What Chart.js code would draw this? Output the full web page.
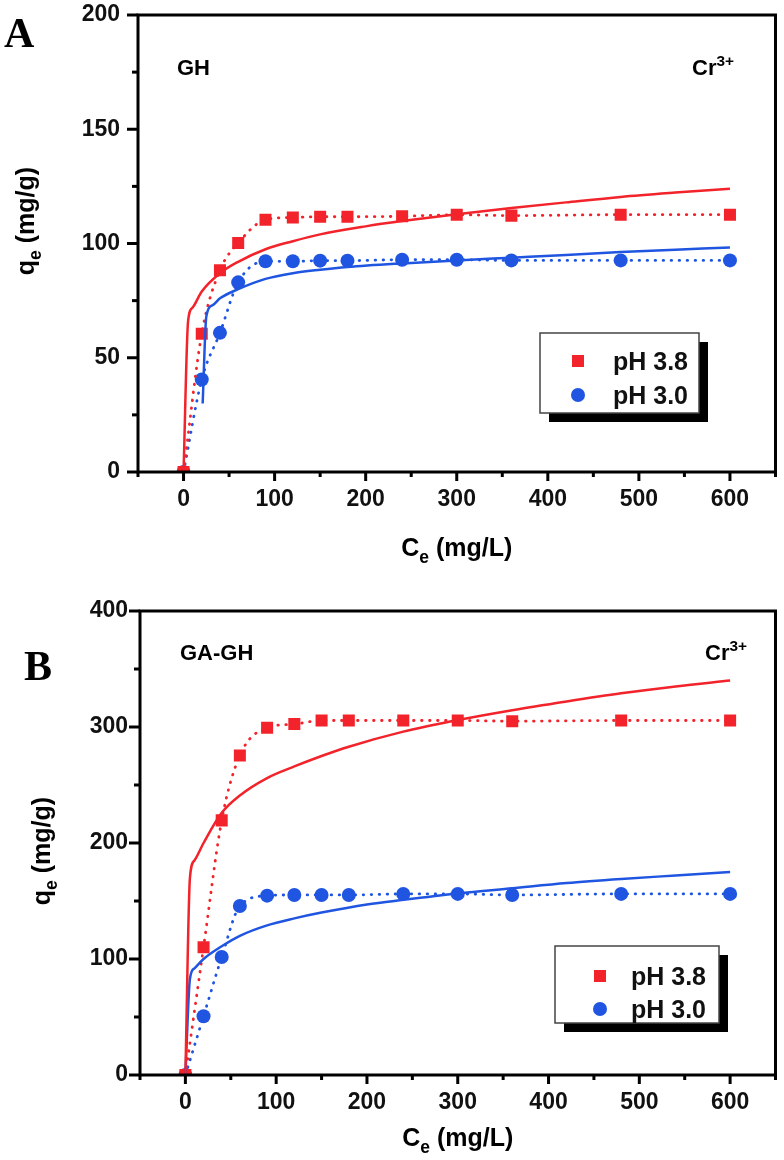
<!DOCTYPE html>
<html>
<head>
<meta charset="utf-8">
<script src="https://cdn.jsdelivr.net/npm/chart.js@4/dist/chart.umd.min.js"></script>
<style>
  html, body { margin: 0; padding: 0; background: #fff; }
  #wrap { position: relative; width: 784px; height: 1160px; }
  canvas { position: absolute; left: 0; }
</style>
</head>
<body>
<div id="wrap">
  <canvas id="chartA" width="784" height="580" style="top:0"></canvas>
  <canvas id="chartB" width="784" height="580" style="top:580px"></canvas>
</div>
<script>
// measured points (Ce in mg/L, qe in mg/g)
var ceData = [0, 20, 40, 60, 90, 120, 150, 180, 240, 300, 360, 480, 600];

var qeA38 = [0, 60.5, 88.3, 100.2, 110.4, 111.4, 111.7, 111.7, 111.9, 112.6, 112.2, 112.6, 112.6];
var qeA30 = [0, 40.5, 60.9, 83, 92.2, 92.2, 92.5, 92.5, 92.9, 92.9, 92.6, 92.6, 92.6];

var qeB38 = [0, 110.2, 219.5, 275.5, 299.3, 302.5, 305.6, 305.6, 305.6, 305.6, 305, 305.6, 305.6];
var qeB30 = [0, 50.7, 101.7, 145.7, 154.6, 155.2, 155.2, 155.2, 156.1, 156.1, 155.2, 156.1, 156.1];

// fitted curves
var fitCeA38 = [0, 5, 10, 20, 40, 60, 90, 120, 150, 200, 240, 300, 360, 420, 480, 540, 600];
var fitQeA38 = [0, 66, 72, 79, 87, 92, 97.5, 101, 104, 107.5, 109.8, 112.8, 115.5, 118, 120.4, 122.3, 124];
var fitCeA30 = [21, 25, 32, 40, 60, 90, 120, 150, 180, 240, 300, 360, 420, 480, 540, 600];
var fitQeA30 = [30, 68, 73, 76, 80, 84.5, 87, 88.5, 89.7, 91.3, 92.6, 93.8, 95, 96.3, 97.3, 98.3];

var fitCeB38 = [0, 5, 10, 20, 40, 60, 90, 120, 150, 180, 240, 300, 360, 420, 480, 540, 600];
var fitQeB38 = [0, 170, 185, 200, 226, 241, 256, 266, 275, 283, 296, 306, 314.5, 322, 329, 335, 340];
var fitCeB30 = [0, 5, 10, 20, 40, 60, 90, 120, 150, 200, 240, 300, 360, 420, 480, 540, 600];
var fitQeB30 = [0, 83, 92, 100, 111, 120, 129, 135, 140, 147, 151, 156.5, 161, 165.5, 169, 172, 175];

var seriesLabels = ['pH 3.8', 'pH 3.0'];
var RED = '#f2232a';
var BLUE = '#1f55e0';
var FONT = '"Liberation Sans", Arial, sans-serif';

function pts(xs, ys) {
    return xs.map(function (x, i) { return {x: x, y: ys[i]}; });
}

function drawRich(ctx, parts, x, y, size, align) {
    var w = 0;
    parts.forEach(function (p) {
        ctx.font = 'bold ' + (p[1] ? size * 0.7 : size) + 'px ' + FONT;
        w += ctx.measureText(p[0]).width;
    });
    var cx = align === 'center' ? x - w / 2 : x;
    parts.forEach(function (p) {
        var s = p[1] ? size * 0.7 : size;
        ctx.font = 'bold ' + s + 'px ' + FONT;
        var dy = p[1] === 1 ? size * 0.28 : (p[1] === 2 ? -size * 0.42 : 0);
        ctx.fillText(p[0], cx, y + dy);
        cx += ctx.measureText(p[0]).width;
    });
}

function noPad(s) {
    s.paddingTop = 0;
    s.paddingBottom = 0;
    s.paddingLeft = 0;
    s.paddingRight = 0;
}

var framePlugin = {
    id: 'frame',
    afterDraw: function (chart) {
        var o = chart.options.plugins.frame;
        var ctx = chart.ctx, a = chart.chartArea;
        var xs = chart.scales.x, ys = chart.scales.y;
        ctx.save();
        ctx.strokeStyle = '#000';
        ctx.fillStyle = '#000';
        ctx.lineWidth = 3;
        ctx.lineCap = 'butt';
        ctx.strokeRect(a.left, a.top, a.right - a.left, a.bottom - a.top);

        xs.ticks.forEach(function (t) {
            var px = xs.getPixelForValue(t.value);
            var len = (t.value % 100 === 0) ? 9 : 5;
            ctx.beginPath();
            ctx.moveTo(px, a.bottom);
            ctx.lineTo(px, a.bottom + len);
            ctx.stroke();
        });
        ys.ticks.forEach(function (t) {
            var py = ys.getPixelForValue(t.value);
            var len = (t.value % o.yMajor === 0) ? 11 : 6;
            ctx.beginPath();
            ctx.moveTo(a.left, py);
            ctx.lineTo(a.left - len, py);
            ctx.stroke();
        });

        // axis titles
        ctx.textBaseline = 'alphabetic';
        drawRich(ctx, [['C', 0], ['e', 1], [' (mg/L)', 0]], (a.left + a.right) / 2, o.xTitleY, 25, 'center');
        ctx.save();
        ctx.translate(o.yTitleX, o.yTitleY);
        ctx.rotate(-Math.PI / 2);
        drawRich(ctx, [['q', 0], ['e', 1], [' (mg/g)', 0]], 0, 8, 25, 'center');
        ctx.restore();

        // panel letter and labels
        ctx.font = 'bold 42px "Liberation Serif", "Times New Roman", serif';
        ctx.fillText(o.letter, o.letterX, o.letterY);
        drawRich(ctx, [[o.name, 0]], o.nameX, o.nameY, 22, 'left');
        drawRich(ctx, [['Cr', 0], ['3+', 2]], o.ionX, o.ionY, 22, 'left');

        // legend box with shadow
        var L = o.legend;
        ctx.fillStyle = '#000';
        ctx.fillRect(L.x + 9, L.y + 9, L.w, L.h);
        ctx.fillStyle = '#fff';
        ctx.fillRect(L.x, L.y, L.w, L.h);
        ctx.lineWidth = 1.5;
        ctx.strokeStyle = '#444';
        ctx.strokeRect(L.x, L.y, L.w, L.h);
        ctx.fillStyle = RED;
        ctx.fillRect(L.mx - 6, L.y1 - 6, 12, 12);
        ctx.fillStyle = BLUE;
        ctx.beginPath();
        ctx.arc(L.mx, L.y2, 7, 0, Math.PI * 2);
        ctx.fill();
        ctx.fillStyle = '#111';
        drawRich(ctx, [[seriesLabels[0], 0]], L.tx, L.y1 + 9, 25, 'left');
        drawRich(ctx, [[seriesLabels[1], 0]], L.tx, L.y2 + 9, 25, 'left');
        ctx.restore();
    }
};

function makeChart(id, p) {
    return new Chart(document.getElementById(id).getContext('2d'), {
        type: 'scatter',
        data: {
            datasets: [
                {label: 'fit 3.8', data: pts(p.fit38x, p.fit38y), showLine: true, borderColor: RED, borderWidth: 2.5,
                    pointRadius: 0, cubicInterpolationMode: 'monotone', order: 1},
                {label: 'fit 3.0', data: pts(p.fit30x, p.fit30y), showLine: true, borderColor: BLUE, borderWidth: 2.5,
                    pointRadius: 0, cubicInterpolationMode: 'monotone', order: 1},
                {label: seriesLabels[0], data: pts(ceData, p.q38), showLine: true, borderColor: RED, backgroundColor: RED,
                    borderWidth: 2.8, borderDash: [0.5, 7.5], borderCapStyle: 'round', cubicInterpolationMode: 'monotone',
                    pointStyle: 'rect', pointRadius: 8.5, pointHoverRadius: 8.5, pointBorderWidth: 0, order: 2},
                {label: seriesLabels[1], data: pts(ceData, p.q30), showLine: true, borderColor: BLUE, backgroundColor: BLUE,
                    borderWidth: 2.8, borderDash: [0.5, 7.5], borderCapStyle: 'round', cubicInterpolationMode: 'monotone',
                    pointStyle: 'circle', pointRadius: 7, pointHoverRadius: 7, pointBorderWidth: 0, order: 2}
            ]
        },
        options: {
            responsive: false,
            animation: false,
            events: [],
            layout: {padding: {top: p.top, right: 7, left: 0, bottom: 0}},
            scales: {
                x: {
                    type: 'linear', min: -50, max: 650,
                    grid: {display: false, drawTicks: false}, border: {display: false},
                    afterFit: function (s) { s.height = p.xH; noPad(s); },
                    ticks: {
                        stepSize: 50, autoSkip: false, maxRotation: 0, padding: 14, color: '#111',
                        font: {family: FONT, size: 23, weight: 'bold'},
                        callback: function (v) { return (v >= 0 && v % 100 === 0) ? v : ''; }
                    }
                },
                y: {
                    type: 'linear', min: 0, max: p.yMax,
                    grid: {display: false, drawTicks: false}, border: {display: false},
                    afterFit: function (s) { s.width = p.yW; noPad(s); },
                    ticks: {
                        stepSize: p.yMajor / 2, autoSkip: false, padding: p.yPad, color: '#111',
                        font: {family: FONT, size: 23, weight: 'bold'},
                        callback: function (v) { return v % p.yMajor === 0 ? v : ''; }
                    }
                }
            },
            plugins: {
                legend: {display: false},
                tooltip: {enabled: false},
                frame: p.frame
            }
        },
        plugins: [framePlugin]
    });
}

makeChart('chartA', {
    q38: qeA38, q30: qeA30,
    fit38x: fitCeA38, fit38y: fitQeA38, fit30x: fitCeA30, fit30y: fitQeA30,
    top: 15, xH: 108, yW: 138, yMax: 200, yMajor: 50, yPad: 18,
    frame: {
        yMajor: 50, xTitleY: 556, yTitleX: 26, yTitleY: 221,
        letter: 'A', letterX: 4, letterY: 47,
        name: 'GH', nameX: 177, nameY: 75, ionX: 692, ionY: 75,
        legend: {x: 540, y: 333, w: 159, h: 80, mx: 578, y1: 361, y2: 395, tx: 613}
    }
});

makeChart('chartB', {
    q38: qeB38, q30: qeB30,
    fit38x: fitCeB38, fit38y: fitQeB38, fit30x: fitCeB30, fit30y: fitQeB30,
    top: 31, xH: 85, yW: 140, yMax: 400, yMajor: 100, yPad: 12,
    frame: {
        yMajor: 100, xTitleY: 566, yTitleX: 42, yTitleY: 271,
        letter: 'B', letterX: 24, letterY: 100,
        name: 'GA-GH', nameX: 180, nameY: 80, ionX: 705, ionY: 80,
        legend: {x: 555, y: 366, w: 164, h: 77, mx: 600, y1: 396, y2: 429, tx: 631}
    }
});
</script>
</body>
</html>
